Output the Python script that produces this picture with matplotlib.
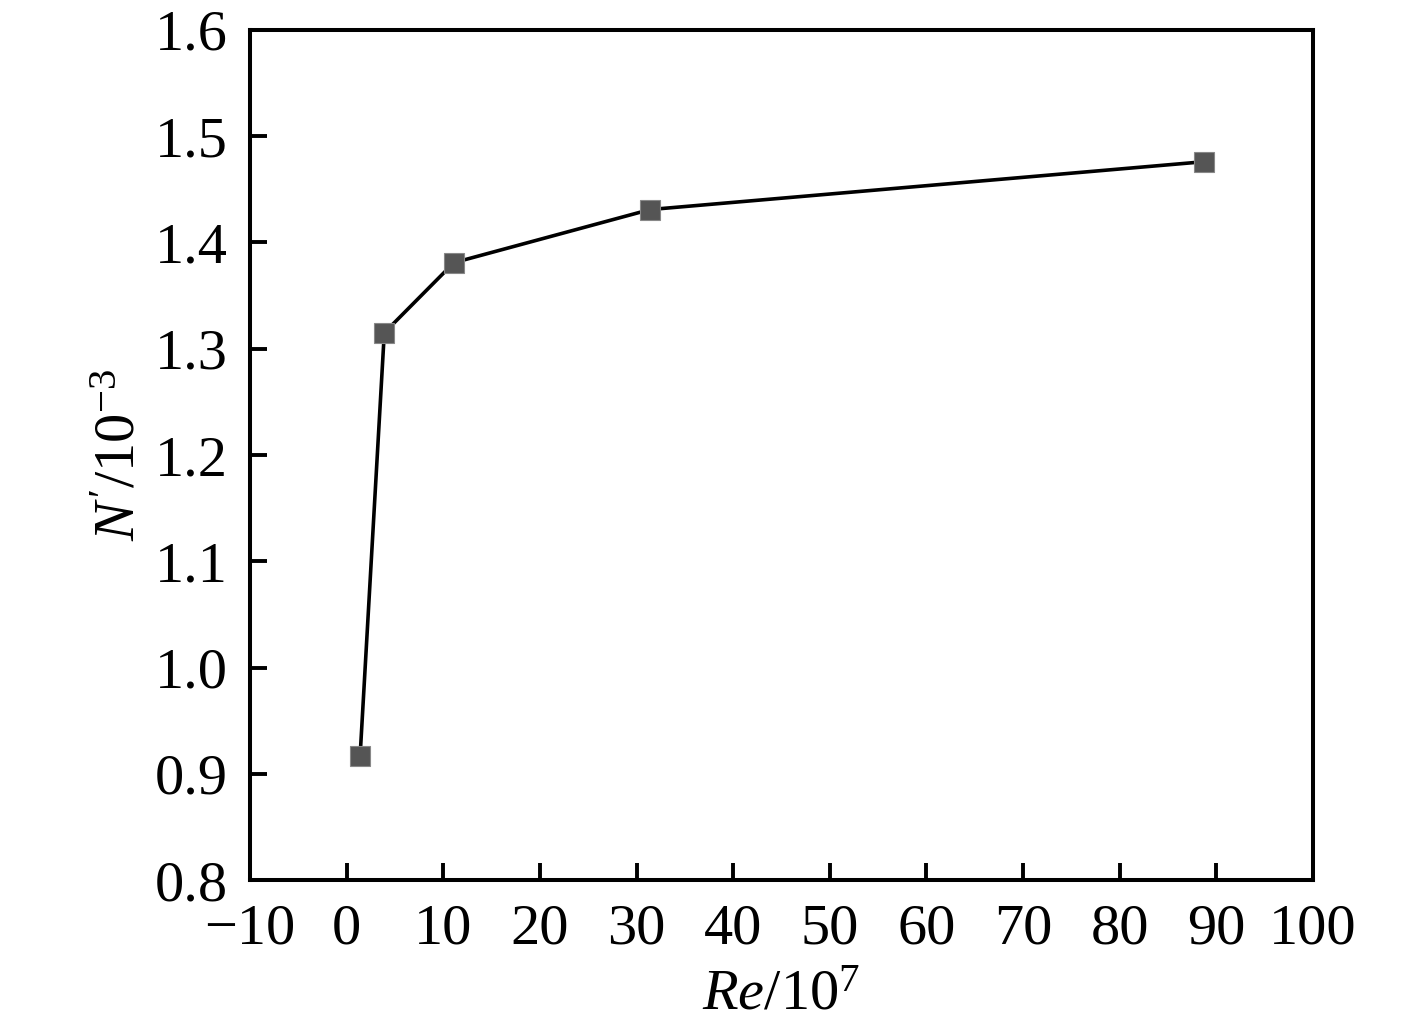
import matplotlib
matplotlib.use('Agg')
import matplotlib.pyplot as plt

# Re/10^7 vs N'/10^-3
re_vals = [1.4, 3.9, 11.1, 31.4, 88.7]
n_vals = [0.917, 1.315, 1.381, 1.431, 1.476]

x_ticks = [-10, 0, 10, 20, 30, 40, 50, 60, 70, 80, 90, 100]
y_ticks = [0.8, 0.9, 1.0, 1.1, 1.2, 1.3, 1.4, 1.5, 1.6]

plt.rcParams['font.family'] = ['Liberation Serif']
plt.rcParams['mathtext.fontset'] = 'custom'
plt.rcParams['mathtext.rm'] = 'Liberation Serif'
plt.rcParams['mathtext.it'] = 'Liberation Serif:italic'

fig = plt.figure(figsize=(14.17, 10.30), dpi=100)
ax = fig.add_axes([0.1764, 0.1456, 0.7502, 0.8253])

ax.plot(re_vals, n_vals, color='black', linewidth=2.6, zorder=2)
ax.plot(re_vals, n_vals, linestyle='none', marker='s', markersize=15,
        markerfacecolor='#555555', markeredgecolor='#888888', markeredgewidth=0.8, zorder=3)

ax.set_xlim(-10, 100)
ax.set_ylim(0.8, 1.6)
ax.set_xticks(x_ticks)
ax.set_yticks(y_ticks)
ax.set_xticklabels(['\u221210' if t < 0 else str(t) for t in x_ticks])
ax.set_yticklabels([f'{t:.1f}' for t in y_ticks])

ax.tick_params(direction='in', length=12, width=2.8, labelsize=42)
ax.tick_params(axis='x', pad=17)
ax.tick_params(axis='y', pad=16)
for s in ax.spines.values():
    s.set_linewidth(2.9)

ax.set_xlabel(r'$Re$/10$^7$', fontsize=42, labelpad=10)
ax.set_ylabel(r"$N'$/10$^{-3}$", fontsize=42, labelpad=6)

fig.savefig('out.png', dpi=100)
